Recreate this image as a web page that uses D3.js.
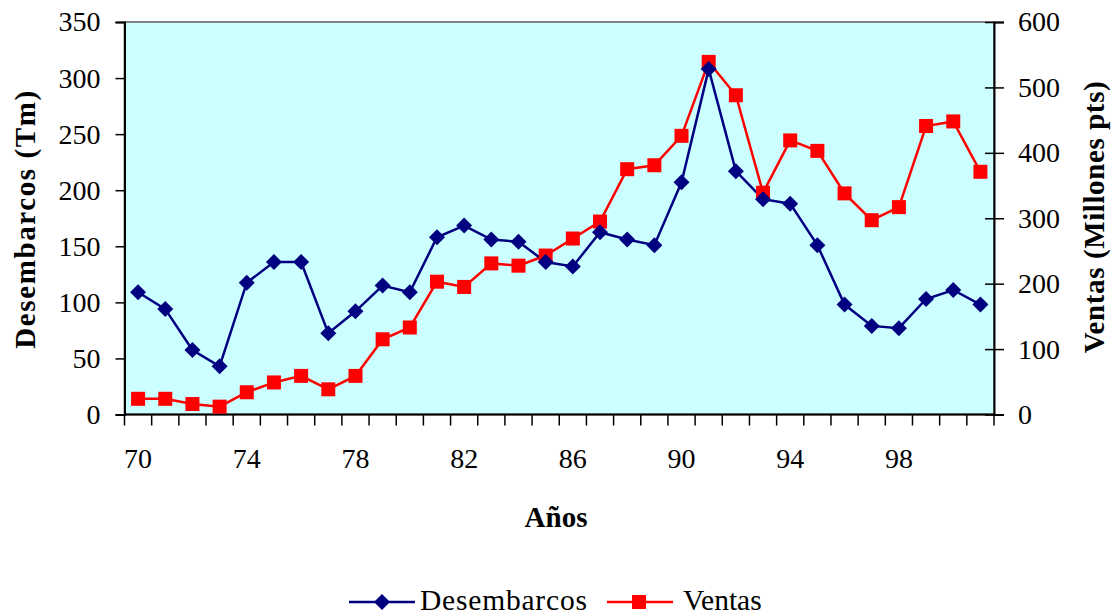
<!DOCTYPE html>
<html><head><meta charset="utf-8">
<script src="https://cdn.jsdelivr.net/npm/d3@7/dist/d3.min.js"></script>
<style>body{margin:0;background:#fff;} text{font-family:"Liberation Serif","Times New Roman",serif;}</style>
</head><body><svg id="c" width="1115" height="615"></svg>
<script>
const years = ["70","71","72","73","74","75","76","77","78","79","80","81","82","83","84","85","86","87","88","89","90","91","92","93","94","95","96","97","98","99","100","101"];
const tickLabels = ["70","74","78","82","86","90","94","98"];
const desembarcos = [109,94,57.5,43,117.5,136,136,72.5,92,115,109,158,168.5,156,154,136,132,162.5,156,151,207,308,217,192,188,151,98,79,77,103,111,98];
const ventas = [24,24,16,12,34,49,59,38.5,59,115,133,203,195,231,227.5,243,269,295,375,381,426,539,488,339,419,403,338,297,317,441,448,371];
const leftTicks = [0,50,100,150,200,250,300,350];
const rightTicks = [0,100,200,300,400,500,600];

const svg = d3.select("#c");
const L=124.5, R=994, T=22, B=414.5;
const x = d3.scaleBand().domain(years).range([L,R]);
const yL = d3.scaleLinear().domain([0,350]).range([B,T]);
const yR = d3.scaleLinear().domain([0,600]).range([B,T]);

svg.append("rect").attr("x",L).attr("y",T).attr("width",R-L).attr("height",B-T)
  .attr("fill","#ccffff").attr("stroke","#808080").attr("stroke-width",2);

const FS = 28;
// left axis
const gl = svg.append("g").attr("transform",`translate(${L},0)`)
  .call(d3.axisLeft(yL).tickValues(leftTicks).tickSize(9).tickPadding(15));
gl.select(".domain").attr("stroke","#000").attr("stroke-width",2);
gl.selectAll("line").attr("stroke","#000").attr("stroke-width",1.5);
gl.selectAll("text").attr("font-size",FS).attr("fill","#000").style("font-family","Liberation Serif");

// right axis
const gr = svg.append("g").attr("transform",`translate(${R},0)`)
  .call(d3.axisRight(yR).tickValues(rightTicks).tickSize(10).tickPadding(14));
gr.select(".domain").attr("stroke","#000").attr("stroke-width",2);
gr.selectAll(".tick line").attr("x1",-9).attr("stroke","#000").attr("stroke-width",1.5);
gr.selectAll("text").attr("font-size",FS).attr("fill","#000").style("font-family","Liberation Serif");

// bottom axis
const gb = svg.append("g").attr("transform",`translate(0,${B})`)
  .call(d3.axisBottom(x).tickValues(tickLabels).tickSize(0).tickPadding(34));
gb.select(".domain").remove();
gb.selectAll("text").attr("font-size",FS).attr("fill","#000").style("font-family","Liberation Serif");
svg.append("g").selectAll("line").data(d3.range(years.length+1)).join("line")
  .attr("x1",i=>L+i*x.step()).attr("x2",i=>L+i*x.step()).attr("y1",B).attr("y2",B+11)
  .attr("stroke","#000").attr("stroke-width",1.5);
svg.append("line").attr("x1",L).attr("x2",R).attr("y1",B).attr("y2",B).attr("stroke","#000").attr("stroke-width",2);

const cx = d => x(d)+x.bandwidth()/2;
const lineL = d3.line().x((d,i)=>cx(years[i])).y(d=>yL(d));
const lineR = d3.line().x((d,i)=>cx(years[i])).y(d=>yR(d));

svg.append("path").attr("d",lineR(ventas)).attr("fill","none").attr("stroke","#ff0000").attr("stroke-width",2.5);
svg.append("path").attr("d",lineL(desembarcos)).attr("fill","none").attr("stroke","#000080").attr("stroke-width",2.5);

svg.append("g").selectAll("rect").data(ventas).join("rect")
  .attr("x",(d,i)=>cx(years[i])-7).attr("y",d=>yR(d)-7).attr("width",14).attr("height",14).attr("fill","#ff0000");
const diamond = "M0,-8L8,0L0,8L-8,0Z";
svg.append("g").selectAll("path").data(desembarcos).join("path")
  .attr("d",diamond).attr("transform",(d,i)=>`translate(${cx(years[i])},${yL(d)})`).attr("fill","#000080");

// titles
svg.append("text").attr("transform","translate(35,219) rotate(-90)").attr("text-anchor","middle")
  .attr("font-size",29).attr("font-weight","bold").attr("letter-spacing",1.6).text("Desembarcos (Tm)");
svg.append("text").attr("transform","translate(1104,217) rotate(-90)").attr("text-anchor","middle")
  .attr("font-size",29).attr("font-weight","bold").attr("letter-spacing",0.6).text("Ventas (Millones pts)");
svg.append("text").attr("x",556).attr("y",527).attr("text-anchor","middle")
  .attr("font-size",29).attr("font-weight","bold").text("Años");

// legend
const ly = 602;
const lg = svg.append("g");
lg.append("line").attr("x1",349).attr("x2",415).attr("y1",ly).attr("y2",ly).attr("stroke","#000080").attr("stroke-width",2.5);
lg.append("path").attr("d",diamond).attr("transform",`translate(382,${ly})`).attr("fill","#000080");
lg.append("text").attr("x",420).attr("y",610).attr("font-size",29.5).attr("letter-spacing",0.8).text("Desembarcos");
lg.append("line").attr("x1",607).attr("x2",673).attr("y1",ly).attr("y2",ly).attr("stroke","#ff0000").attr("stroke-width",2.5);
lg.append("rect").attr("x",632).attr("y",ly-7).attr("width",14).attr("height",14).attr("fill","#ff0000");
lg.append("text").attr("x",683).attr("y",610).attr("font-size",29.5).text("Ventas");
</script></body></html>
